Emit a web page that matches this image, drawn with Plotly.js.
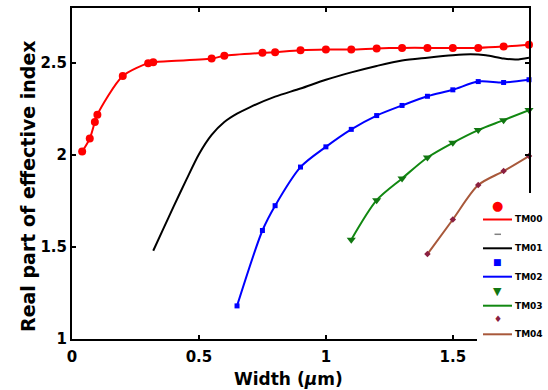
<!DOCTYPE html>
<html>
<head>
<meta charset="utf-8">
<script src="https://cdn.plot.ly/plotly-3.0.1.min.js"></script>
<style>html,body{margin:0;padding:0;background:#fff;}#chart{width:548px;height:390px;}</style>
</head>
<body>
<div id="chart"></div>
<script>
// TM00
const tm00X = [0.04, 0.07, 0.09, 0.10, 0.20, 0.30, 0.32, 0.55, 0.60, 0.75, 0.80, 0.90, 1.00, 1.10, 1.20, 1.30, 1.40, 1.50, 1.60, 1.70, 1.80];
const tm00Y = [2.02, 2.09, 2.18, 2.22, 2.43, 2.50, 2.505, 2.525, 2.54, 2.556, 2.56, 2.57, 2.574, 2.574, 2.58, 2.583, 2.583, 2.583, 2.583, 2.59, 2.60];
// TM01
const tm01X = [0.32, 0.36, 0.40, 0.45, 0.50, 0.55, 0.60, 0.65, 0.70, 0.80, 0.90, 1.00, 1.10, 1.20, 1.30, 1.40, 1.50, 1.57, 1.63, 1.70, 1.75, 1.80];
const tm01Y = [1.48, 1.60, 1.72, 1.865, 2.005, 2.11, 2.18, 2.225, 2.26, 2.318, 2.362, 2.41, 2.45, 2.485, 2.515, 2.53, 2.543, 2.548, 2.543, 2.525, 2.52, 2.53];
// TM02
const tm02X = [0.65, 0.75, 0.80, 0.90, 1.00, 1.10, 1.20, 1.30, 1.40, 1.50, 1.60, 1.70, 1.80];
const tm02Y = [1.18, 1.59, 1.725, 1.935, 2.045, 2.14, 2.215, 2.27, 2.32, 2.355, 2.40, 2.395, 2.41];
// TM03
const tm03X = [1.10, 1.20, 1.30, 1.40, 1.50, 1.60, 1.70, 1.80];
const tm03Y = [1.54, 1.755, 1.873, 1.987, 2.067, 2.136, 2.19, 2.245];
// TM04
const tm04X = [1.40, 1.50, 1.60, 1.70, 1.80];
const tm04Y = [1.462, 1.65, 1.837, 1.913, 1.995];

const modeNames = ["TM00", "TM01", "TM02", "TM03", "TM04"];
const lineColors = ["#ff0000", "#000000", "#0000ff", "#118811", "#a8583a"];
const markerColors = ["#ff0000", "#808080", "#0000ff", "#117711", "#8b2040"];
const markerGlyphs = ["●", "", "■", "▼", "♦"];
const markerGlyphSizes = [13, 10, 9, 11, 9];

const FONT = "DejaVu Sans, Arial, sans-serif";

function trace(x, y, i, symbol, size, withMarkers) {
  return {
    x: x, y: y, type: "scatter",
    mode: withMarkers ? "lines+markers" : "lines",
    line: {color: lineColors[i], width: 2, shape: "spline", smoothing: 0.8},
    marker: {symbol: symbol, size: size, color: markerColors[i]},
    cliponaxis: false,
    showlegend: false,
    name: modeNames[i]
  };
}

const data = [
  trace(tm01X, tm01Y, 1, "line-ew", 5, false),
  trace(tm02X, tm02Y, 2, "square", 5, true),
  trace(tm03X, tm03Y, 3, "triangle-down", 8, true),
  trace(tm04X, tm04Y, 4, "diamond", 5, true),
  trace(tm00X, tm00Y, 0, "circle", 8, true)
];

// manual legend (MATLAB style: marker row, then line row with label)
const L = 72, R = 529, T = 8, B = 339;
const px = v => (v - L) / (R - L);
const py = v => (B - v) / (B - T);
const markerRowY = [205.5, 234.3, 262.3, 291, 319.3];
const lineRowY = [219.5, 248.3, 276.7, 305.7, 334.3];

const shapes = [
  {type: "rect", xref: "paper", yref: "paper", x0: px(477), x1: px(560), y0: py(350), y1: py(193),
   fillcolor: "#ffffff", line: {width: 0}, layer: "above"}
];
const annotations = [];
for (let i = 0; i < 5; i++) {
  shapes.push({type: "line", xref: "paper", yref: "paper", x0: px(483), x1: px(512),
    y0: py(lineRowY[i]), y1: py(lineRowY[i]), line: {color: lineColors[i], width: 2}, layer: "above"});
  annotations.push({xref: "paper", yref: "paper", x: px(513), y: py(lineRowY[i]), xanchor: "left", yanchor: "middle",
    text: modeNames[i], showarrow: false, font: {family: FONT, size: 9, color: "#000", weight: "bold"}});
  if (markerGlyphs[i]) {
    annotations.push({xref: "paper", yref: "paper", x: px(497.7), y: py(markerRowY[i]), xanchor: "center", yanchor: "middle",
      text: markerGlyphs[i], showarrow: false, font: {family: FONT, size: markerGlyphSizes[i], color: markerColors[i]}});
  } else {
    shapes.push({type: "line", xref: "paper", yref: "paper", x0: px(494.5), x1: px(501),
      y0: py(markerRowY[i]), y1: py(markerRowY[i]), line: {color: markerColors[i], width: 1.5}, layer: "above"});
  }
}
annotations.push({xref: "paper", yref: "paper", x: px(288), y: py(379), xanchor: "center", yanchor: "middle",
  text: "Width (<i>μ</i>m)", showarrow: false, font: {family: FONT, size: 17, color: "#000", weight: "bold"}});
annotations.push({xref: "paper", yref: "paper", x: px(28), y: py(186), xanchor: "center", yanchor: "middle",
  textangle: -90, text: "Real part of effective index", showarrow: false,
  font: {family: FONT, size: 19, color: "#000", weight: "bold"}});

const axisCommon = {
  showgrid: false, zeroline: false, showline: true, linecolor: "#000", linewidth: 2,
  mirror: "ticks", ticks: "inside", ticklen: 4, tickwidth: 1.5, tickcolor: "#000",
  tickfont: {family: FONT, size: 15, color: "#000", weight: "bold"}, dtick: 0.5
};

const layout = {
  width: 548, height: 390,
  margin: {l: L, r: 548 - R, t: T, b: 390 - B, pad: 0},
  paper_bgcolor: "#fff", plot_bgcolor: "#fff",
  showlegend: false,
  xaxis: Object.assign({}, axisCommon, {range: [0, 1.8], tick0: 0, ticklabelstandoff: 3}),
  yaxis: Object.assign({}, axisCommon, {range: [1, 2.8], tick0: 1}),
  shapes: shapes,
  annotations: annotations
};

Plotly.newPlot("chart", data, layout, {staticPlot: true, displayModeBar: false});
</script>
</body>
</html>
